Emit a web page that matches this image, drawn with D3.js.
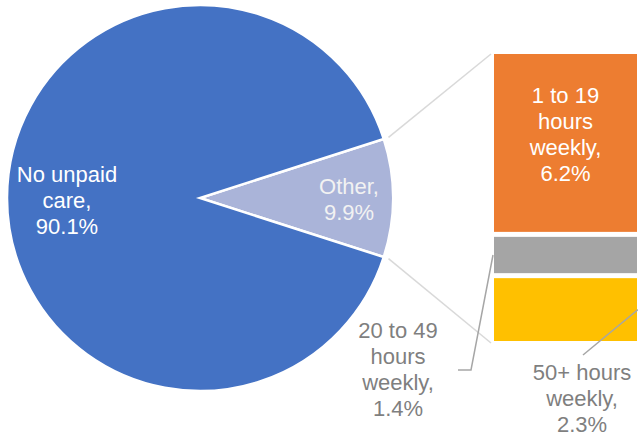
<!DOCTYPE html>
<html><head><meta charset="utf-8">
<script src="https://cdn.jsdelivr.net/npm/d3@7"></script>
<style>
html,body{margin:0;padding:0;background:#fff;}
svg{display:block;}
svg text{font-family:"Liberation Sans",Arial,Helvetica,sans-serif;}
</style></head>
<body>
<svg id="c" width="638" height="438"></svg>
<script>
// Data
const pieCategories = ["Other", "No unpaid care"];
const pieValues = [9.9, 90.1];
const pieLabels = [["Other,", "9.9%"], ["No unpaid", "care,", "90.1%"]];
const barCategories = ["1 to 19 hours weekly", "20 to 49 hours weekly", "50+ hours weekly"];
const barValues = [6.2, 1.4, 2.3];
const barLabels = [["1 to 19", "hours", "weekly,", "6.2%"], ["20 to 49", "hours", "weekly,", "1.4%"], ["50+ hours", "weekly,", "2.3%"]];

const pieColors = ["#aab4d9", "#4472c4"];
const barColors = ["#ed7d31", "#a5a5a5", "#ffc000"];

const svg = d3.select("#c");
const cx = 200, cy = 198, R = 193;
const fs = 22, lh = 26;

const otherTotal = pieValues[0];
const total = d3.sum(pieValues);
const half = Math.PI * otherTotal / total;
const start = Math.PI / 2 - half;
const pie = d3.pie().sort(null).startAngle(start).endAngle(start + 2 * Math.PI);
const arcs = pie(pieValues);
const arc = d3.arc().innerRadius(0).outerRadius(R);

const g = svg.append("g").attr("transform", `translate(${cx},${cy})`);
g.selectAll("path").data(arcs).join("path")
  .attr("d", arc).attr("fill", (d, i) => pieColors[i])
  .attr("stroke", "#fff").attr("stroke-width", 2.5).attr("stroke-linejoin", "miter");

// Bar scale
const barX0 = 494, barX1 = 637;
const y = d3.scaleLinear().domain([0, d3.sum(barValues)]).range([54, 346]);
const cum = [];
let acc = 0;
barValues.forEach(v => { cum.push([acc, acc + v]); acc += v; });
const gap = 5;

// Connector lines
const pt = (a, r) => [cx + r * Math.sin(a), cy - r * Math.cos(a)];
const connColor = "#d9d9d9";
const p1 = pt(arcs[0].startAngle, R + 5), p2 = pt(arcs[0].endAngle, R + 5);
svg.append("line").attr("x1", p1[0]).attr("y1", p1[1]).attr("x2", barX0 - 3).attr("y2", y(0))
  .attr("stroke", connColor).attr("stroke-width", 1.5);
svg.append("line").attr("x1", p2[0]).attr("y1", p2[1]).attr("x2", barX0 - 3).attr("y2", y(d3.sum(barValues)) - 3)
  .attr("stroke", connColor).attr("stroke-width", 1.5);

svg.selectAll("rect.bar").data(barValues).join("rect").attr("class", "bar")
  .attr("x", barX0).attr("width", barX1 - barX0)
  .attr("y", (d, i) => y(cum[i][0]))
  .attr("height", (d, i) => y(cum[i][1]) - y(cum[i][0]) - gap)
  .attr("fill", (d, i) => barColors[i]);

// Text helper
function multi(x, yFirst, lines, color) {
  const t = svg.append("text").attr("text-anchor", "middle").attr("font-size", fs).attr("fill", color);
  lines.forEach((l, i) => t.append("tspan").attr("x", x).attr("y", yFirst + i * lh).text(l));
}

// Pie labels
const cA = (arcs[1].startAngle + arcs[1].endAngle) / 2;
const lp1 = pt(cA, 133);
multi(lp1[0], 182, pieLabels[1], "#ffffff");
const oA = (arcs[0].startAngle + arcs[0].endAngle) / 2;
const lp0 = pt(oA, 149);
multi(lp0[0], 194, pieLabels[0], "#f2f2f2");

// Bar labels
const bxMid = (barX0 + barX1) / 2;
multi(bxMid, 103, barLabels[0], "#ffffff");
const leadColor = "#a6a6a6";
multi(398, 338, barLabels[1], "#7f7f7f");
const gMid = (y(cum[1][0]) + y(cum[1][1]) - gap) / 2;
svg.append("polyline").attr("points", `458,370 471,370 ${barX0 - 1},${gMid}`)
  .attr("fill", "none").attr("stroke", leadColor).attr("stroke-width", 1.5);
multi(582, 380, barLabels[2], "#7f7f7f");
const yMid = (y(cum[2][0]) + y(cum[2][1]) - gap) / 2;
svg.append("line").attr("x1", 583).attr("y1", 355).attr("x2", barX1 + 1).attr("y2", yMid)
  .attr("stroke", leadColor).attr("stroke-width", 1.5);
</script>
</body></html>
